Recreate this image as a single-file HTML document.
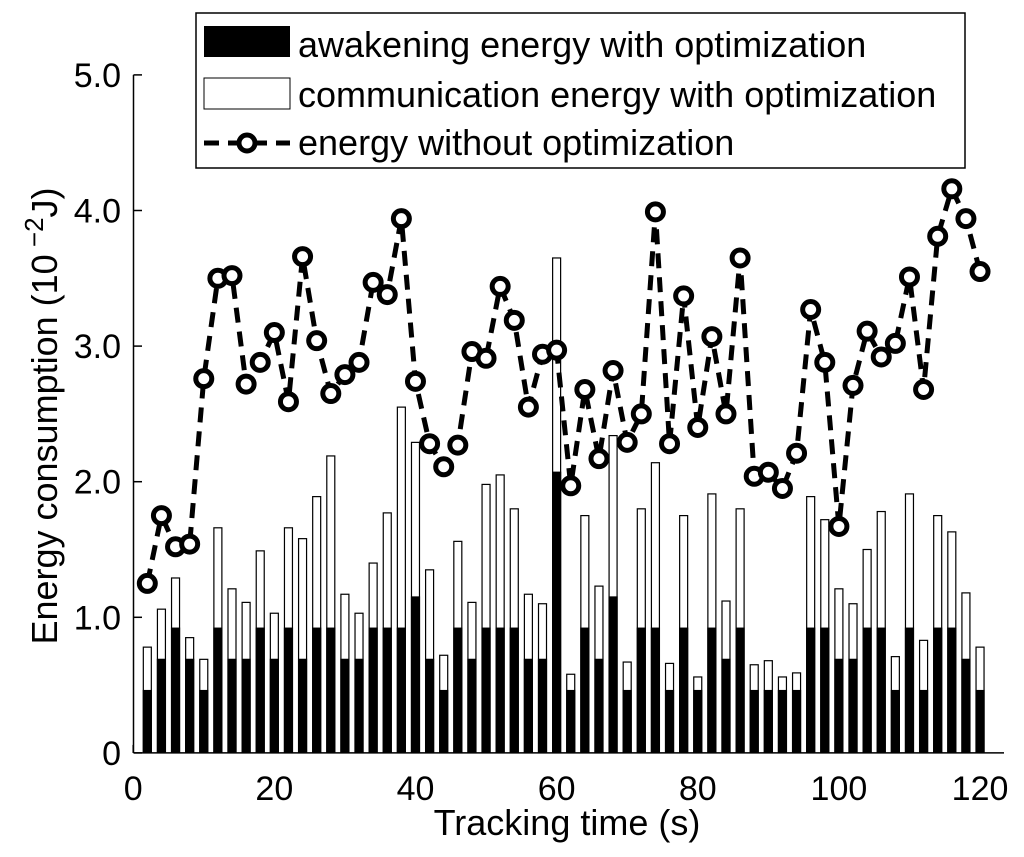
<!DOCTYPE html>
<html><head><meta charset="utf-8"><style>
html,body{margin:0;padding:0;background:#fff;}
svg{display:block;font-family:"Liberation Sans",Arial,sans-serif;}
</style></head><body>
<svg id="chart" width="1024" height="857" viewBox="0 0 1024 857">
<g id="bars"></g>
<g id="line"></g>
<g id="axes"></g>
<text x="567" y="835" font-size="36" text-anchor="middle">Tracking time (s)</text>
<text transform="translate(57,416) rotate(-90)" font-size="36" text-anchor="middle">Energy consumption (10<tspan font-size="26" dy="-14"> −2</tspan><tspan dy="14">J)</tspan></text>
<g>
<rect x="196" y="13" width="769" height="155" fill="#fff" stroke="#000" stroke-width="1.5"/>
<g>
<rect x="204" y="26" width="86" height="31" fill="#000"/>
<text x="298" y="57" font-size="36">awakening energy with optimization</text></g>
<g>
<rect x="204" y="78" width="86" height="31" fill="#fff" stroke="#000" stroke-width="1"/>
<text x="298" y="107" font-size="36">communication energy with optimization</text></g>
<g>
<line x1="204" y1="143" x2="290" y2="143" stroke="#000" stroke-width="5" stroke-dasharray="15,9"/>
<circle cx="247" cy="143" r="8" fill="#fff" stroke="#000" stroke-width="5"/>
<text x="298" y="155" font-size="36">energy without optimization</text></g>
</g>
</svg>
<script>
const times=[2,4,6,8,10,12,14,16,18,20,22,24,26,28,30,32,34,36,38,40,42,44,46,48,50,52,54,56,58,60,62,64,66,68,70,72,74,76,78,80,82,84,86,88,90,92,94,96,98,100,102,104,106,108,110,112,114,116,118,120];
const awakening=[0.46,0.69,0.92,0.69,0.46,0.92,0.69,0.69,0.92,0.69,0.92,0.69,0.92,0.92,0.69,0.69,0.92,0.92,0.92,1.15,0.69,0.46,0.92,0.69,0.92,0.92,0.92,0.69,0.69,2.07,0.46,0.92,0.69,1.15,0.46,0.92,0.92,0.46,0.92,0.46,0.92,0.69,0.92,0.46,0.46,0.46,0.46,0.92,0.92,0.69,0.69,0.92,0.92,0.46,0.92,0.46,0.92,0.92,0.69,0.46];
const totals=[0.78,1.06,1.29,0.85,0.69,1.66,1.21,1.11,1.49,1.03,1.66,1.58,1.89,2.19,1.17,1.03,1.40,1.77,2.55,2.29,1.35,0.72,1.56,1.11,1.98,2.05,1.80,1.17,1.10,3.65,0.58,1.75,1.23,2.34,0.67,1.80,2.14,0.66,1.75,0.56,1.91,1.12,1.80,0.65,0.68,0.56,0.59,1.89,1.72,1.21,1.10,1.50,1.78,0.71,1.91,0.83,1.75,1.63,1.18,0.78];
const withoutOpt=[1.25,1.75,1.52,1.54,2.76,3.50,3.52,2.72,2.88,3.10,2.59,3.66,3.04,2.65,2.79,2.88,3.47,3.38,3.94,2.74,2.28,2.11,2.27,2.96,2.91,3.44,3.19,2.55,2.94,2.97,1.97,2.68,2.17,2.82,2.29,2.50,3.99,2.28,3.37,2.40,3.07,2.50,3.65,2.04,2.07,1.95,2.21,3.27,2.88,1.67,2.71,3.11,2.92,3.02,3.51,2.68,3.81,4.16,3.94,3.55];
const xTicks=[0,20,40,60,80,100,120];
const yTicks=[0,1,2,3,4,5];
const yTickLabels=["0","1.0","2.0","3.0","4.0","5.0"];
const NS="http://www.w3.org/2000/svg";
const X=v=>133.2+v*7.057;
const Y=v=>752.9-v*135.6;
function mk(tag,attrs,parent){const e=document.createElementNS(NS,tag);for(const k in attrs)e.setAttribute(k,attrs[k]);parent.appendChild(e);return e;}
const gb=document.getElementById('bars');
times.forEach((t,i)=>{
  const w=8;
  const c=mk('rect',{x:X(t)-w/2,y:Y(totals[i]),width:w,height:Y(0)-Y(totals[i]),fill:'#fff',stroke:'#000','stroke-width':1.2},gb);
  
  
  const a=mk('rect',{x:X(t)-w/2,y:Y(awakening[i]),width:w,height:Y(0)-Y(awakening[i]),fill:'#000',stroke:'#000','stroke-width':1.2},gb);
  
  
});
const gl=document.getElementById('line');
const p=mk('polyline',{points:times.map((t,i)=>X(t)+','+Y(withoutOpt[i])).join(' '),fill:'none',stroke:'#000','stroke-width':5,'stroke-dasharray':'15,9'},gl);


times.forEach((t,i)=>{
  const c=mk('circle',{cx:X(t),cy:Y(withoutOpt[i]),r:8,fill:'#fff',stroke:'#000','stroke-width':5},gl);
  
  
});
const ga=document.getElementById('axes');
const ax=mk('line',{x1:133.5,y1:Y(0),x2:1004,y2:Y(0),stroke:'#000','stroke-width':1.5},ga);


const ay=mk('line',{x1:133.5,y1:Y(0),x2:133.5,y2:Y(5),stroke:'#000','stroke-width':1.5},ga);


xTicks.forEach(v=>{
  const l=mk('line',{x1:X(v),y1:Y(0),x2:X(v),y2:Y(0)-8,stroke:'#000','stroke-width':1.5},ga);
  
  
  const t=mk('text',{x:X(v),y:800,'font-size':34,'text-anchor':'middle'},ga);
  t.textContent=v;
  
  
});
yTicks.forEach((v,i)=>{
  const l=mk('line',{x1:133.5,y1:Y(v),x2:142,y2:Y(v),stroke:'#000','stroke-width':1.5},ga);
  
  
  const t=mk('text',{x:121,y:Y(v)+12,'font-size':34,'text-anchor':'end'},ga);
  t.textContent=yTickLabels[i];
  
  
});
</script>
</body></html>
